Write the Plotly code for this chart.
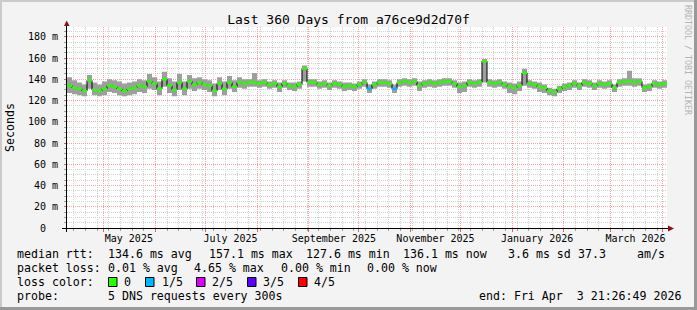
import plotly.graph_objects as go
from datetime import datetime, timedelta

# ---------------- data ----------------
start = datetime(2025, 4, 8, 21, 26, 49)
end = datetime(2026, 4, 3, 21, 26, 49)
step_days = 3

median_ms = [134, 132, 131, 129, 139, 130, 129, 131, 134, 133,
             131, 129, 131, 132, 134, 133, 138, 136, 131, 140,
             134, 130, 137, 131, 138, 135, 137, 135, 134, 129,
             136, 131, 137, 133, 137, 136, 137, 137, 136, 137,
             135, 136, 133, 136, 134, 133, 135, 150, 137, 137,
             135, 136, 134, 136, 135, 133, 134, 133, 135, 137,
             131, 135, 137, 137, 136, 131, 137, 138, 137, 138,
             134, 136, 137, 136, 137, 138, 138, 136, 133, 134,
             137, 136, 137, 157, 137, 136, 137, 135, 133, 132,
             134, 146, 136, 135, 133, 132, 129, 128, 131, 133,
             134, 136, 134, 137, 136, 134, 136, 135, 136, 132,
             137, 138, 138, 137, 138, 132, 133, 136, 135, 136]

smoke_lo_ms = [127, 126, 125, 124, 131, 125, 124, 125, 128, 127,
               125, 124, 125, 126, 128, 127, 131, 130, 125, 133,
               127, 124, 130, 125, 131, 129, 131, 130, 128, 124,
               130, 125, 131, 128, 132, 131, 133, 133, 132, 133,
               131, 132, 128, 132, 130, 129, 131, 138, 133, 133,
               131, 132, 130, 132, 131, 129, 130, 129, 131, 133,
               127, 131, 133, 133, 132, 127, 133, 134, 133, 134,
               129, 132, 133, 132, 133, 134, 134, 132, 127, 128,
               133, 132, 133, 137, 133, 132, 133, 131, 127, 126,
               129, 134, 132, 131, 128, 127, 125, 124, 127, 129,
               130, 132, 130, 133, 132, 130, 132, 131, 132, 128,
               133, 134, 134, 133, 134, 128, 129, 132, 131, 132]

smoke_hi_ms = [142, 139, 137, 135, 144, 137, 135, 138, 140, 139,
               138, 136, 137, 138, 140, 139, 145, 142, 138, 147,
               141, 138, 145, 138, 144, 141, 142, 140, 139, 136,
               142, 138, 143, 139, 142, 140, 140, 146, 139, 140,
               138, 139, 137, 139, 137, 137, 138, 153, 140, 140,
               138, 139, 137, 139, 138, 137, 137, 136, 138, 140,
               135, 138, 140, 140, 139, 135, 140, 141, 140, 141,
               138, 139, 140, 139, 140, 141, 141, 139, 137, 138,
               140, 139, 140, 159, 140, 139, 140, 138, 137, 136,
               138, 150, 139, 138, 137, 135, 132, 131, 134, 136,
               137, 139, 137, 140, 139, 137, 139, 138, 139, 135,
               140, 141, 148, 141, 141, 135, 136, 139, 138, 139]

loss_fifths = [0, 0, 0, 0, 0, 0, 0, 0, 0, 0,
               0, 0, 0, 0, 0, 0, 0, 0, 0, 0,
               0, 0, 0, 0, 0, 0, 0, 0, 0, 0,
               0, 0, 0, 0, 0, 0, 0, 0, 0, 0,
               0, 0, 0, 0, 0, 0, 0, 0, 0, 0,
               0, 0, 0, 0, 0, 0, 0, 0, 0, 0,
               1, 0, 0, 0, 0, 1, 0, 0, 0, 0,
               0, 0, 0, 0, 0, 0, 0, 0, 0, 0,
               0, 0, 0, 0, 0, 0, 0, 0, 0, 0,
               0, 0, 0, 0, 0, 0, 0, 0, 0, 0,
               0, 0, 0, 0, 0, 0, 0, 0, 0, 0,
               0, 0, 0, 0, 0, 0, 0, 0, 0, 0]

loss_labels = ["0", "1/5", "2/5", "3/5", "4/5"]
loss_colors = ["#26ff00", "#00b8ff", "#dd00ff", "#5e00ff", "#ff0000"]

y_tick_vals = [0, 20, 40, 60, 80, 100, 120, 140, 160, 180]
y_tick_text = ["0\u00a0\u00a0", "20 m", "40 m", "60 m", "80 m", "100 m", "120 m", "140 m", "160 m", "180 m"]
x_label_dates = [datetime(2025, 5, 16), datetime(2025, 7, 16), datetime(2025, 9, 16),
                 datetime(2025, 11, 16), datetime(2026, 1, 16), datetime(2026, 3, 16)]
x_label_text = ["May 2025", "July 2025", "September 2025", "November 2025",
                "January 2026", "March 2026"]

# ---------------- derived ----------------
times = [start + timedelta(days=step_days * i) for i in range(len(median_ms))] + [end]
med_ext = median_ms + [median_ms[-1]]
lo_ext = smoke_lo_ms + [smoke_lo_ms[-1]]
hi_ext = smoke_hi_ms + [smoke_hi_ms[-1]]

month_starts = []
y, m = 2025, 5
while datetime(y, m, 1) <= end:
    month_starts.append(datetime(y, m, 1))
    m += 1
    if m > 12:
        m, y = 1, y + 1
sundays = []
d = datetime(2025, 4, 13)
while d <= end:
    sundays.append(d)
    d += timedelta(days=7)

MONO = "DejaVu Sans Mono"
W, H = 697, 310
L, R, T, B = 67, 30, 27, 82
PW, PH = W - L - R, H - T - B


def PX(x):
    return (x - L) / PW


def PY(yp):
    return (H - B - yp) / PH


fig = go.Figure()

# smoke
fig.add_trace(go.Scatter(x=times, y=lo_ext, mode="lines", line=dict(width=0, shape="hv"),
                         showlegend=False, hoverinfo="skip"))
fig.add_trace(go.Scatter(x=times, y=hi_ext, mode="lines", line=dict(width=0, shape="hv"),
                         fill="tonexty", fillcolor="#9e9e9e", showlegend=False, hoverinfo="skip"))
# thin black median step line
fig.add_trace(go.Scatter(x=times, y=med_ext, mode="lines", line=dict(width=1, color="#000000", shape="hv"),
                         showlegend=False, hoverinfo="skip"))
# loss-colored median segments
for k, col in enumerate(loss_colors):
    xs, ys = [], []
    for i, v in enumerate(median_ms):
        if loss_fifths[i] == k:
            xs += [times[i], times[i + 1], None]
            ys += [v, v, None]
    if xs:
        fig.add_trace(go.Scatter(x=xs, y=ys, mode="lines", line=dict(width=2.5, color=col),
                                 showlegend=False, hoverinfo="skip"))
# dummy trace on label axis
fig.add_trace(go.Scatter(x=[start, end], y=[None, None], xaxis="x2", mode="lines",
                         showlegend=False, hoverinfo="skip"))

MGRID = "#f3a3a3"
GRID = "#d2d2d2"

fig.update_layout(
    width=W, height=H,
    margin=dict(l=L, r=R, t=T, b=B),
    paper_bgcolor="#f3f3f3",
    plot_bgcolor="#ffffff",
    showlegend=False,
    title=dict(text="Last 360 Days from a76ce9d2d70f", x=0.5, xanchor="center",
               y=1 - 19.5 / H, yanchor="middle", font=dict(family=MONO, size=13, color="#000")),
    xaxis=dict(type="date", range=[start, end], tickmode="array", tickvals=month_starts,
               showticklabels=False, showgrid=True, gridcolor=MGRID, griddash="1px,1px", gridwidth=1,
               ticks="outside", ticklen=3, tickcolor="#e06060", zeroline=False, showline=False,
               minor=dict(tickmode="array", tickvals=sundays, showgrid=True, gridcolor=GRID,
                          griddash="1px,1px", ticks="outside", ticklen=2, tickcolor="#a0a0a0")),
    xaxis2=dict(type="date", overlaying="x", matches="x", anchor="y", side="bottom",
                range=[start, end], tickmode="array", tickvals=x_label_dates, ticktext=x_label_text,
                showgrid=False, ticks="", showline=False, zeroline=False, ticklabelstandoff=3,
                tickfont=dict(family=MONO, size=10, color="#000")),
    yaxis=dict(range=[0, 189.2], tickmode="array", tickvals=y_tick_vals, ticktext=y_tick_text,
               showgrid=True, gridcolor=MGRID, griddash="1px,1px", zeroline=False, showline=False,
               ticks="outside", ticklen=2, tickcolor="#e06060", ticklabelstandoff=4,
               tickfont=dict(family=MONO, size=10, color="#000"),
               minor=dict(dtick=5, tick0=0, showgrid=True, gridcolor=GRID, griddash="1px,1px",
                          ticks="outside", ticklen=2, tickcolor="#a0a0a0")),
)

shapes = []
# axis lines and arrows
shapes.append(dict(type="line", xref="paper", yref="paper", x0=PX(62), x1=PX(669),
                   y0=PY(228.5), y1=PY(228.5), line=dict(color="#000", width=1)))
shapes.append(dict(type="line", xref="paper", yref="paper", x0=PX(66.5), x1=PX(66.5),
                   y0=PY(232), y1=PY(24), line=dict(color="#000", width=1)))
shapes.append(dict(type="path", xref="paper", yref="paper",
                   path=f"M {PX(64)} {PY(26)} L {PX(69.5)} {PY(26)} L {PX(66.7)} {PY(20.5)} Z",
                   fillcolor="#8b1010", line=dict(width=0)))
shapes.append(dict(type="path", xref="paper", yref="paper",
                   path=f"M {PX(668)} {PY(225.5)} L {PX(668)} {PY(231.5)} L {PX(674)} {PY(228.5)} Z",
                   fillcolor="#8b1010", line=dict(width=0)))
# canvas 3D border
shapes.append(dict(type="line", xref="paper", yref="paper", x0=PX(0), x1=PX(697),
                   y0=PY(1), y1=PY(1), line=dict(color="#cbcbcb", width=2)))
shapes.append(dict(type="line", xref="paper", yref="paper", x0=PX(1), x1=PX(1),
                   y0=PY(0), y1=PY(310), line=dict(color="#cbcbcb", width=2)))
shapes.append(dict(type="line", xref="paper", yref="paper", x0=PX(695.5), x1=PX(695.5),
                   y0=PY(0), y1=PY(310), line=dict(color="#999999", width=3)))
shapes.append(dict(type="line", xref="paper", yref="paper", x0=PX(0), x1=PX(697),
                   y0=PY(308.5), y1=PY(308.5), line=dict(color="#999999", width=3)))
# loss color legend boxes
box_x = [108.5, 145.5, 196.5, 247.5, 298.5]
for bx, col in zip(box_x, loss_colors):
    shapes.append(dict(type="rect", xref="paper", yref="paper", x0=PX(bx), x1=PX(bx + 8.5),
                       y0=PY(286.5), y1=PY(277.5), fillcolor=col, line=dict(color="#000", width=1)))
fig.update_layout(shapes=shapes)

NB = "\u00a0"


def txt(s, x, y, size=11.6, color="#000", angle=0, xanchor="left"):
    return dict(text=s.replace(" ", NB), xref="paper", yref="paper", x=PX(x), y=PY(y),
                xanchor=xanchor, yanchor="middle", showarrow=False, textangle=angle,
                font=dict(family=MONO, size=size, color=color), borderpad=0)


ann = []
ann.append(txt("Seconds", 10, 128, xanchor="center", angle=-90))
ann.append(txt("RRDTOOL / TOBI OETIKER", 688, 60, size=8.3, color="#b4b4b4", angle=90, xanchor="center"))
# legend line 1
ann += [txt("median rtt:", 16, 254.3), txt("134.6 ms avg", 107, 254.3), txt("157.1 ms max", 207.5, 254.3),
        txt("127.6 ms min", 305, 254.3), txt("136.1 ms now", 401.5, 254.3), txt("3.6 ms sd", 506.5, 254.3),
        txt("37.3", 576.5, 254.3), txt("am/s", 636, 254.3)]
# legend line 2
ann += [txt("packet loss:", 16, 268.3), txt("0.01 % avg", 107, 268.3), txt("4.65 % max", 193.3, 268.3),
        txt("0.00 % min", 279.5, 268.3), txt("0.00 % now", 365.5, 268.3)]
# legend line 3
ann.append(txt("loss color:", 16, 282.3))
label_x = [123, 160.5, 211, 262, 312.5]
for lx, lab in zip(label_x, loss_labels):
    ann.append(txt(lab, lx, 282.3))
# legend line 4
ann += [txt("probe:", 16, 296), txt("5 DNS requests every 300s", 107, 296),
        txt("end: Fri Apr  3 21:26:49 2026", 478, 296)]
fig.update_layout(annotations=ann)

fig.write_html("out.html")
